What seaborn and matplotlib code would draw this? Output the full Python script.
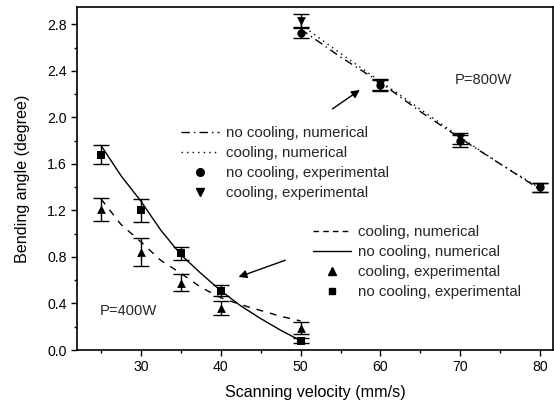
import matplotlib
matplotlib.use("Agg")
import matplotlib.pyplot as plt
import seaborn as sns
import numpy as np
from matplotlib.lines import Line2D
from matplotlib.ticker import MultipleLocator, FormatStrFormatter

# ---- data ----
# 400 W, experimental
v400 = [25, 30, 35, 40, 50]
nocool400_exp = [1.68, 1.20, 0.83, 0.51, 0.08]
nocool400_err = [0.08, 0.10, 0.06, 0.045, 0.02]
cool400_exp = [1.21, 0.84, 0.58, 0.36, 0.19]
cool400_err = [0.10, 0.12, 0.07, 0.06, 0.05]
# 400 W, numerical
v400_num = [25, 27.5, 30, 32.5, 35, 37.5, 40, 42.5, 45, 47.5, 50]
nocool400_num = [1.76, 1.50, 1.28, 1.03, 0.82, 0.66, 0.51, 0.38, 0.27, 0.17, 0.08]
cool400_num = [1.30, 1.08, 0.93, 0.77, 0.66, 0.54, 0.45, 0.39, 0.34, 0.29, 0.25]
# 800 W, experimental
v800 = [50, 60, 70, 80]
nocool800_exp = [2.73, 2.28, 1.80, 1.40]
nocool800_err = [0.05, 0.04, 0.05, 0.04]
cool800_exp = [2.83, 2.28, 1.82, 1.40]
cool800_err = [0.06, 0.05, 0.05, 0.04]
# 800 W, numerical
v800_num = [50, 55, 60, 65, 70, 75, 80]
nocool800_num = [2.76, 2.52, 2.30, 2.05, 1.82, 1.60, 1.38]
cool800_num = [2.80, 2.55, 2.31, 2.07, 1.83, 1.60, 1.39]

sns.set_style("ticks")
plt.rcParams['font.family'] = ['Liberation Sans', 'DejaVu Sans']
plt.rcParams['font.size'] = 10.5

fig = plt.figure(figsize=(5.54, 4.04), dpi=100)
ax = fig.add_axes([77/554, 54/404, 476/554, 343/404])

lw = 1.0
sns.lineplot(x=v400_num, y=cool400_num, ax=ax, color='black', linestyle=(0, (5, 5)), linewidth=lw)
sns.lineplot(x=v400_num, y=nocool400_num, ax=ax, color='black', linestyle='-', linewidth=lw)
sns.lineplot(x=v800_num, y=nocool800_num, ax=ax, color='black', linestyle=(0, (6, 3, 1, 3)), linewidth=lw)
sns.lineplot(x=v800_num, y=cool800_num, ax=ax, color='black', linestyle=(0, (1, 3)), linewidth=lw)

ekw = dict(fmt='none', ecolor='black', elinewidth=1, capsize=6, capthick=1)
ax.errorbar(v400, nocool400_exp, yerr=nocool400_err, **ekw)
ax.errorbar(v400, cool400_exp, yerr=cool400_err, **ekw)
ax.errorbar(v800, nocool800_exp, yerr=nocool800_err, **ekw)
ax.errorbar(v800, cool800_exp, yerr=cool800_err, **ekw)

skw = dict(color='black', edgecolor='black', ax=ax, zorder=5, linewidth=0)
sns.scatterplot(x=v400, y=nocool400_exp, marker='s', s=30, **skw)
sns.scatterplot(x=v400, y=cool400_exp, marker='^', s=40, **skw)
sns.scatterplot(x=v800, y=nocool800_exp, marker='o', s=36, **skw)
sns.scatterplot(x=v800, y=cool800_exp, marker='v', s=40, **skw)

ax.set_xlim(22, 81.6)
ax.set_ylim(0, 2.95)
ax.xaxis.set_major_locator(MultipleLocator(10))
ax.xaxis.set_minor_locator(MultipleLocator(5))
ax.yaxis.set_major_locator(MultipleLocator(0.4))
ax.yaxis.set_minor_locator(MultipleLocator(0.2))
ax.yaxis.set_major_formatter(FormatStrFormatter('%.1f'))
ax.tick_params(which='major', direction='out', length=4, width=1, pad=3.5,
               labelsize=10.2, color='black', labelcolor='black')
ax.tick_params(which='minor', direction='out', length=2.5, width=1, color='black')
for s in ax.spines.values():
    s.set_color('black')
    s.set_linewidth(1.2)
ax.set_xlabel('Scanning velocity (mm/s)', fontsize=11.6, color='black')
ax.set_ylabel('Bending angle (degree)', fontsize=11.6, color='black')
ax.yaxis.set_label_coords(-0.098, 0.5)
ax.xaxis.set_label_coords(0.5, -0.102)

# legends
h800 = [
    Line2D([], [], color='black', lw=lw, linestyle=(0, (6, 3, 1, 3))),
    Line2D([], [], color='black', lw=lw, linestyle=(0, (1, 3))),
    Line2D([], [], color='black', lw=0, marker='o', markersize=5.5),
    Line2D([], [], color='black', lw=0, marker='v', markersize=6),
]
l800 = ['no cooling, numerical', 'cooling, numerical',
        'no cooling, experimental', 'cooling, experimental']
h400 = [
    Line2D([], [], color='black', lw=lw, linestyle=(0, (4, 3))),
    Line2D([], [], color='black', lw=lw, linestyle='-'),
    Line2D([], [], color='black', lw=0, marker='^', markersize=6),
    Line2D([], [], color='black', lw=0, marker='s', markersize=5),
]
l400 = ['cooling, numerical', 'no cooling, numerical',
        'cooling, experimental', 'no cooling, experimental']

lkw = dict(frameon=False, fontsize=10.8, handlelength=2.5, handletextpad=0.47,
           labelspacing=0.40, borderpad=0, borderaxespad=0, loc='upper left')
leg1 = ax.legend(h800, l800, bbox_to_anchor=((181-77)/476, (350-126)/343), **lkw)
ax.add_artist(leg1)
leg2 = ax.legend(h400, l400, bbox_to_anchor=((313-77)/476, (350-225)/343), **lkw)

ax.text(69.3, 2.32, 'P=800W', fontsize=10.6, va='center', ha='left')
ax.text(24.9, 0.335, 'P=400W', fontsize=10.6, va='center', ha='left')
ax.annotate('', xy=(57.7, 2.25), xytext=(53.7, 2.06),
            arrowprops=dict(arrowstyle='-|>', color='black', lw=1, mutation_scale=12))
ax.annotate('', xy=(41.9, 0.62), xytext=(48.4, 0.78),
            arrowprops=dict(arrowstyle='-|>', color='black', lw=1, mutation_scale=12))

fig.savefig('out.png', dpi=100)
